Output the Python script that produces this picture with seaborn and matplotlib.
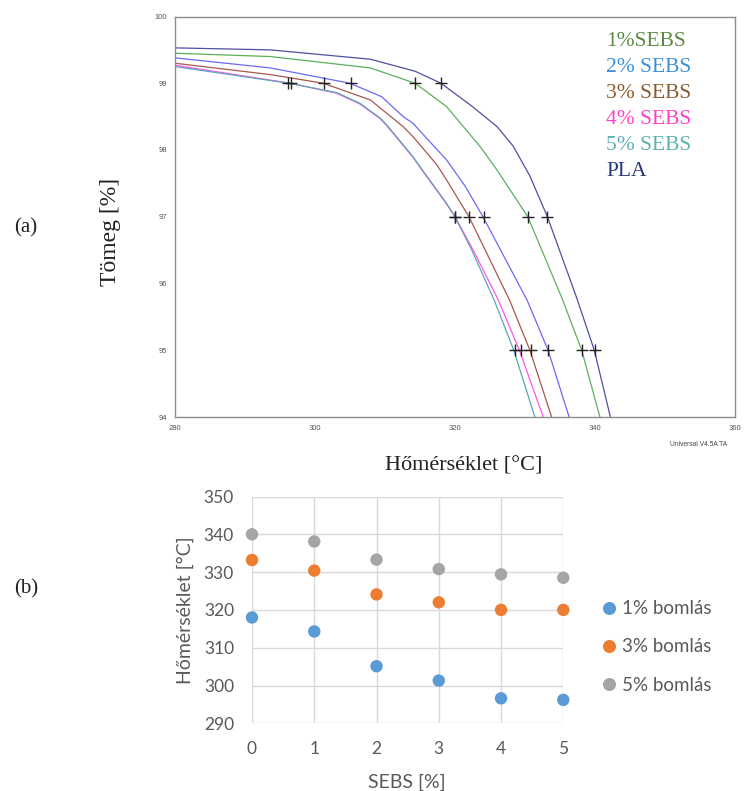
import pandas as pd
import matplotlib
matplotlib.use("Agg")
import matplotlib.pyplot as plt
import seaborn as sns

# ---- (a) TGA curves: temperature [°C] and mass [%] ----
pla_temp = [280, 293.6, 307.9, 314.3, 318.0, 322.5, 326.0, 328.3, 330.7, 333.2, 337.4, 339.9, 342.2]
pla_mass = [99.53, 99.50, 99.36, 99.18, 99.0, 98.65, 98.35, 98.06, 97.61, 97.0, 95.78, 95.0, 94.0]

s1_temp = [280, 293.6, 307.9, 314.3, 318.8, 323.6, 326.0, 330.4, 335.4, 338.1, 340.7]
s1_mass = [99.45, 99.40, 99.23, 99.0, 98.65, 98.05, 97.70, 97.0, 95.75, 95.0, 94.0]

s2_temp = [280, 293.6, 305.0, 309.5, 312.6, 314.0, 318.8, 321.5, 324.0, 330.3, 333.3, 336.3]
s2_mass = [99.38, 99.23, 99.0, 98.80, 98.50, 98.40, 97.85, 97.45, 97.0, 95.75, 95.0, 94.0]

s3_temp = [280, 293.6, 301.2, 307.9, 312.6, 314.0, 317.4, 318.8, 322.0, 327.8, 330.7, 333.8]
s3_mass = [99.30, 99.13, 99.0, 98.75, 98.35, 98.20, 97.78, 97.55, 97.0, 95.75, 95.0, 94.0]

s4_temp = [280, 296.5, 303.1, 306.4, 309.3, 310.2, 314.0, 315.0, 318.8, 320.0, 322.6, 326.2, 329.2, 332.6]
s4_mass = [99.27, 99.0, 98.85, 98.69, 98.47, 98.37, 97.89, 97.74, 97.19, 97.0, 96.5, 95.75, 95.0, 94.0]

s5_temp = [280, 296.3, 303.1, 306.4, 309.3, 310.2, 314.0, 315.0, 318.8, 320.0, 322.4, 325.6, 328.4, 331.4]
s5_mass = [99.25, 99.0, 98.86, 98.70, 98.48, 98.38, 97.90, 97.75, 97.20, 97.0, 96.5, 95.75, 95.0, 94.0]

curve_names = ["PLA", "1%SEBS", "2% SEBS", "3% SEBS", "4% SEBS", "5% SEBS"]
curve_temps = [pla_temp, s1_temp, s2_temp, s3_temp, s4_temp, s5_temp]
curve_masses = [pla_mass, s1_mass, s2_mass, s3_mass, s4_mass, s5_mass]
line_colors = ["#4f4fa3", "#5cb05c", "#6a6af5", "#a8574e", "#ff55ee", "#5ca6b5"]
text_colors = ["#26367a", "#5a8a40", "#3b8fd8", "#8b5a30", "#ff40c8", "#5fb0b0"]

# ---- (b) decomposition temperatures vs SEBS content ----
sebs = [0, 1, 2, 3, 4, 5]
t_1 = [318.0, 314.3, 305.1, 301.3, 296.6, 296.2]
t_3 = [333.2, 330.4, 324.1, 322.0, 320.0, 320.0]
t_5 = [340.0, 338.1, 333.3, 330.8, 329.4, 328.5]
levels = [99, 97, 95]
kinds = ["1% bomlás", "3% bomlás", "5% bomlás"]
point_colors = ["#5b9bd5", "#ed7d31", "#a5a5a5"]

tga = pd.concat([
    pd.DataFrame({"T": t, "M": m, "series": name})
    for name, t, m in zip(curve_names, curve_temps, curve_masses)
], ignore_index=True)

points = pd.concat([
    pd.DataFrame({"SEBS": sebs, "T": temps, "kind": kind})
    for kind, temps in zip(kinds, [t_1, t_3, t_5])
], ignore_index=True)

sns.set_theme(style="white")
plt.rcParams["font.family"] = ["DejaVu Sans"]

fig = plt.figure(figsize=(7.47, 7.91), dpi=100)
W, H = 747, 791

def fx(px):
    return px / W

def fy(py):
    return 1 - py / H

# ------------------------- (a) -------------------------
ax1 = fig.add_axes([fx(175), fy(417), fx(735) - fx(175), fy(16.5) - fy(417)])

sns.lineplot(data=tga, x="T", y="M", hue="series", hue_order=curve_names,
             palette=line_colors, sort=False, estimator=None, legend=False,
             linewidth=0.9, ax=ax1)

# crosses at the 1 %, 3 % and 5 % mass-loss levels
for level, temps in zip(levels, [t_1, t_3, t_5]):
    ax1.plot(temps, [level] * len(temps), linestyle="none", marker="+",
             markersize=9, markeredgewidth=1.0, color="#222222", zorder=5)

ax1.set_xlim(280, 360)
ax1.set_ylim(94, 100)
ax1.set_xticks(range(280, 361, 20))
ax1.set_xticks(range(280, 361, 5), minor=True)
ax1.set_yticks(range(94, 101))
ax1.set_yticks([94.5 + i for i in range(6)], minor=True)
ax1.set_xlabel("")
ax1.set_ylabel("")
for sp in ax1.spines.values():
    sp.set_color("#8c8c8c")
    sp.set_linewidth(1.0)
ax1.tick_params(which="major", direction="out", length=4, width=0.8,
                color="#8c8c8c", labelsize=5.5, labelcolor="#555555", pad=1.5)
ax1.tick_params(which="minor", direction="out", length=2.5, width=0.8,
                color="#8c8c8c")
for lab in ax1.get_xticklabels() + ax1.get_yticklabels():
    lab.set_family("Liberation Sans")

# coloured legend text
for i, name in enumerate(["1%SEBS", "2% SEBS", "3% SEBS", "4% SEBS", "5% SEBS", "PLA"]):
    idx = curve_names.index(name)
    fig.text(fx(606), fy(41 + 26 * i), name, color=text_colors[idx],
             family="Liberation Serif", fontsize=15.5, va="center", ha="left")

fig.text(fx(464), fy(466), "Hőmérséklet [°C]", family="Liberation Serif",
         fontsize=16, ha="center", va="center", color="#222222")
fig.text(fx(111), fy(232), "Tömeg [%]", family="Liberation Serif",
         fontsize=17, ha="center", va="center", rotation=90, color="#222222")
fig.text(fx(670), fy(445), "Universal V4.5A TA", family="Liberation Sans",
         fontsize=4.8, ha="left", va="center", color="#444444")
fig.text(fx(26), fy(228), "(a)", family="Liberation Serif", fontsize=15,
         ha="center", va="center", color="#222222")
fig.text(fx(26), fy(589), "(b)", family="Liberation Serif", fontsize=15,
         ha="center", va="center", color="#222222")

# ------------------------- (b) -------------------------
ax2 = fig.add_axes([fx(252), fy(723.3), fx(563.3) - fx(252), fy(496.5) - fy(723.3)])

sns.scatterplot(data=points, x="SEBS", y="T", hue="kind", hue_order=kinds,
                palette=point_colors, s=80, edgecolor="none", clip_on=False,
                zorder=3, ax=ax2)

ax2.set_xlim(0, 5)
ax2.set_ylim(290, 350)
ax2.set_xticks(sebs)
ax2.set_yticks(range(290, 351, 10))
ax2.grid(True, color="#d9d9d9", linewidth=1.0)
ax2.set_axisbelow(True)
for sp in ax2.spines.values():
    sp.set_visible(False)
ax2.tick_params(length=0, labelsize=12.5, labelcolor="#595959", pad=13)
for lab in ax2.get_xticklabels() + ax2.get_yticklabels():
    lab.set_family("Lato")
ax2.set_xlabel("")
ax2.set_ylabel("")

fig.text(fx(407), fy(782), "SEBS [%]", family="Lato", fontsize=14,
         ha="center", va="center", color="#595959")
fig.text(fx(185), fy(610), "Hőmérséklet [°C]", family="Lato", fontsize=14,
         ha="center", va="center", rotation=90, color="#595959")

handles, labels = ax2.get_legend_handles_labels()
ax2.legend(handles, labels, loc="center left",
           bbox_to_anchor=(fx(600), fy(647)), bbox_transform=fig.transFigure,
           frameon=False, borderpad=0, borderaxespad=0,
           handletextpad=0.15, labelspacing=1.13,
           handlelength=1.0, markerscale=1.05,
           prop={"family": "Lato", "size": 13.5}, labelcolor="#595959")

fig.savefig("out.png", dpi=100)
